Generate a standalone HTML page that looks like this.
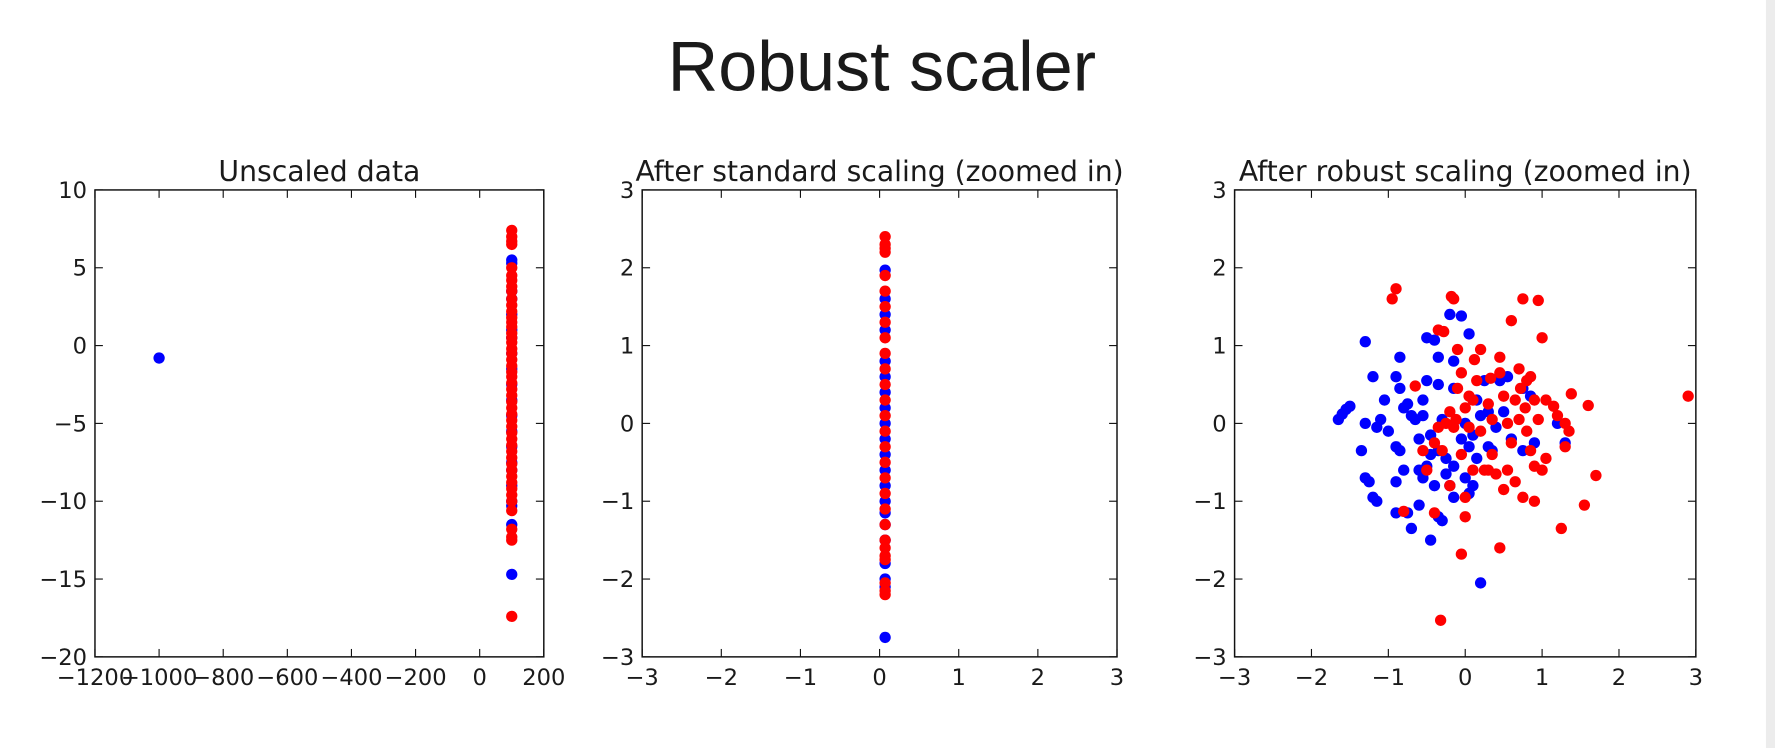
<!DOCTYPE html>
<html><head><meta charset="utf-8"><style>
html,body{margin:0;padding:0;background:#fff;width:1775px;height:748px;overflow:hidden}
svg{display:block}
text{font-family:"DejaVu Sans","Liberation Sans",sans-serif;fill:#1a1a1a}
</style></head><body>
<svg id="fig" width="1775" height="748" viewBox="0 0 1570 661.6" xmlns="http://www.w3.org/2000/svg">
<rect x="0" y="0" width="1570" height="661.6" fill="#fff"/>
<rect x="1562" y="0" width="8" height="661.6" fill="#ececec"/>
<text x="780" y="80" text-anchor="middle" font-size="62" style="font-family:'Liberation Sans',sans-serif;fill:#1a1a1a">Robust scaler</text>
<g id="plots"></g>
</svg>
<script>
// ---- data ----
const p1RedY=[7.4,7.0,6.7,6.5,5.0,4.5,4.2,3.8,3.5,3.0,2.6,2.2,1.8,1.5,1.2,0.8,0.5,0.2,-0.2,-0.5,-0.9,-1.3,-1.7,-2.0,-2.4,-2.8,-3.2,-3.6,-4.0,-4.4,-4.8,-5.2,-5.6,-6.0,-6.4,-6.8,-7.2,-7.6,-8.0,-8.4,-8.8,-9.2,-9.6,-10.0,-10.6,-11.8,-12.3,-12.5,-17.4];
const p1BlueY=[5.5,5.3,3.5,3.0,2.0,1.0,0.5,-0.5,-1.5,-2.5,-3.5,-4.5,-5.5,-6.5,-7.5,-8.0,-9.0,-10.0,-10.3,-11.5,-14.7];
const p1StripX=100;
const p1OutlierX=[-1000];
const p1OutlierY=[-0.8];
const p2RedY=[2.4,2.3,2.25,2.2,1.9,1.7,1.5,1.3,1.1,0.9,0.7,0.5,0.3,0.1,-0.1,-0.3,-0.5,-0.7,-0.9,-1.1,-1.3,-1.5,-1.6,-1.7,-1.75,-2.05,-2.15,-2.2];
const p2BlueY=[1.97,1.6,1.4,1.2,0.8,0.6,0.4,0.2,0.0,-0.2,-0.4,-0.6,-0.8,-1.0,-1.15,-1.3,-1.5,-1.8,-2.0,-2.1,-2.75];
const p2StripX=0.07;
const p3Red=[[-0.95,1.6],[-0.9,1.73],[-0.18,1.63],[-0.15,1.6],[0.75,1.6],[0.95,1.58],[0.6,1.32],[-0.35,1.2],[-0.28,1.18],[-0.1,0.95],[0.2,0.95],[0.45,0.85],[0.7,0.7],[0.85,0.6],[1.0,1.1],[1.38,0.38],[1.6,0.23],[1.15,0.22],[-0.65,0.48],[-0.1,0.45],[0.05,0.35],[0.3,0.25],[0.5,0.35],[0.65,0.3],[0.72,0.45],[0.78,0.2],[0.9,0.3],[-0.2,0.15],[-0.12,0.05],[0.0,0.2],[0.1,0.3],[-0.25,0.0],[-0.15,-0.05],[0.05,-0.05],[0.2,-0.1],[0.35,0.05],[0.55,0.0],[0.8,-0.1],[0.95,0.05],[1.2,0.1],[-0.05,-0.4],[0.1,-0.6],[0.25,-0.6],[0.4,-0.65],[0.55,-0.6],[0.65,-0.75],[0.9,-0.55],[1.05,-0.45],[1.7,-0.67],[1.3,-0.3],[-0.4,-0.25],[-0.3,-0.35],[-0.5,-0.6],[-0.2,-0.8],[0.0,-0.95],[-0.8,-1.13],[-0.4,-1.15],[0.0,-1.2],[0.9,-1.0],[1.25,-1.35],[1.55,-1.05],[0.3,-0.6],[0.5,-0.85],[0.75,-0.95],[1.0,-0.6],[2.9,0.35],[-0.05,-1.68],[0.45,-1.6],[-0.32,-2.53],[0.85,-0.35],[0.6,-0.25],[0.35,-0.4],[0.15,0.55],[0.45,0.65],[0.8,0.55],[1.05,0.3],[1.3,0.0],[-0.05,0.65],[0.12,0.82],[0.33,0.58],[0.7,0.05],[-0.35,-0.05],[-0.55,-0.35],[1.35,-0.1]];
const p3Blue=[[-1.65,0.05],[-1.6,0.12],[-1.55,0.18],[-1.5,0.22],[-1.3,-0.7],[-1.25,-0.75],[-1.2,-0.95],[-1.15,-1.0],[-1.3,1.05],[-1.2,0.6],[-1.05,0.3],[-0.85,0.85],[-0.9,0.6],[-0.85,0.45],[-1.3,0.0],[-1.15,-0.05],[-1.1,0.05],[-1.0,-0.1],[-0.9,-0.3],[-0.85,-0.35],[-1.35,-0.35],[-0.8,0.2],[-0.75,0.25],[-0.7,0.1],[-0.65,0.05],[-0.55,0.3],[-0.55,0.1],[-0.6,-0.2],[-0.45,-0.15],[-0.6,-0.6],[-0.55,-0.7],[-0.5,-0.55],[-0.45,-0.4],[-0.35,-0.35],[-0.4,-0.8],[-0.8,-0.6],[-0.9,-0.75],[-0.75,-1.15],[-0.7,-1.35],[-0.9,-1.15],[-0.6,-1.05],[-0.35,-1.2],[-0.3,-1.25],[-0.45,-1.5],[-0.2,-0.8],[-0.15,-0.95],[-0.25,-0.65],[-0.15,-0.55],[0.0,-0.7],[0.05,-0.9],[0.1,-0.8],[-0.3,0.05],[-0.15,0.45],[-0.35,0.5],[-0.15,0.8],[-0.2,1.4],[-0.05,1.38],[0.05,1.15],[-0.5,1.1],[-0.4,1.07],[-0.35,0.85],[0.05,-0.3],[0.15,-0.45],[0.35,-0.35],[0.2,0.1],[0.3,0.15],[0.4,-0.05],[0.25,0.55],[0.45,0.55],[0.6,-0.2],[0.75,-0.35],[0.85,0.35],[0.75,0.45],[1.2,0.0],[1.3,-0.25],[0.9,-0.25],[0.5,0.15],[0.2,-2.05],[0.1,-0.15],[0.0,0.0],[-0.05,-0.2],[0.3,-0.3],[-0.25,-0.45],[0.15,0.3],[-0.5,0.55],[0.55,0.6]];
const p1XTicks=[-1200,-1000,-800,-600,-400,-200,0,200];
const p1YTicks=[10,5,0,-5,-10,-15,-20];
const p23Ticks=[-3,-2,-1,0,1,2,3];
const titles=["Unscaled data","After standard scaling (zoomed in)","After robust scaling (zoomed in)"];

const NS="http://www.w3.org/2000/svg";
const root=document.getElementById('plots');
function mk(tag,attrs,parent){const e=document.createElementNS(NS,tag);for(const k in attrs)e.setAttribute(k,attrs[k]);parent.appendChild(e);return e;}
function fmt(v){return v<0?'\u2212'+Math.abs(v):String(v);}

function axes(idx,L,R,T,B,xmin,xmax,ymin,ymax,xt,yt){
  const g=mk('g',{},root);
  
  
  const sx=v=>L+(v-xmin)/(xmax-xmin)*(R-L);
  const sy=v=>B-(v-ymin)/(ymax-ymin)*(B-T);
  const t=mk('text',{x:(L+R)/2,y:T-8,'text-anchor':'middle','font-size':25},g);
  t.textContent=titles[idx];
  
  
  const pts=mk('g',{},g);
  
  
  const fr=mk('rect',{x:L,y:T,width:R-L,height:B-T,fill:'none',stroke:'#111','stroke-width':1.3},g);
  
  
  xt.forEach(v=>{const x=sx(v);
    mk('line',{x1:x,x2:x,y1:B,y2:B-7,stroke:'#111','stroke-width':1},g);
    mk('line',{x1:x,x2:x,y1:T,y2:T+7,stroke:'#111','stroke-width':1},g);
    const l=mk('text',{x:x,y:B+25,'text-anchor':'middle','font-size':20},g);l.textContent=fmt(v);
    
    });
  yt.forEach(v=>{const y=sy(v);
    mk('line',{x1:L,x2:L+7,y1:y,y2:y,stroke:'#111','stroke-width':1},g);
    mk('line',{x1:R,x2:R-7,y1:y,y2:y,stroke:'#111','stroke-width':1},g);
    const l=mk('text',{x:L-7,y:y+7,'text-anchor':'end','font-size':20},g);l.textContent=fmt(v);
    
    });
  return {sx,sy,pts};
}
function dot(a,x,y,c){const d=mk('circle',{cx:a.sx(x),cy:a.sy(y),r:5,fill:c},a.pts);
  
  }

const B='#0000ff',Rd='#ff0000';
const a1=axes(0,84,481,168,581,-1200,200,-20,10,p1XTicks,p1YTicks);
p1OutlierX.forEach((x,i)=>dot(a1,x,p1OutlierY[i],B));
p1BlueY.forEach(y=>dot(a1,p1StripX,y,B));
p1RedY.forEach(y=>dot(a1,p1StripX,y,Rd));
const a2=axes(1,568,988,168,581,-3,3,-3,3,p23Ticks,p23Ticks);
p2BlueY.forEach(y=>dot(a2,p2StripX,y,B));
p2RedY.forEach(y=>dot(a2,p2StripX,y,Rd));
const a3=axes(2,1092,1500,168,581,-3,3,-3,3,p23Ticks,p23Ticks);
p3Blue.forEach(p=>dot(a3,p[0],p[1],B));
p3Red.forEach(p=>dot(a3,p[0],p[1],Rd));
</script>
</body></html>
